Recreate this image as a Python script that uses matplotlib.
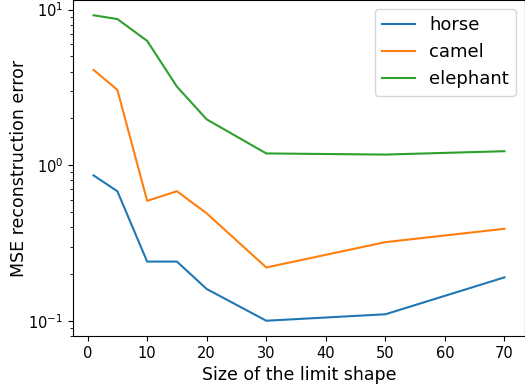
import matplotlib
matplotlib.use("Agg")
import matplotlib.pyplot as plt

sizes = [1, 5, 10, 15, 20, 30, 50, 70]
horse = [0.86, 0.68, 0.24, 0.24, 0.16, 0.10, 0.11, 0.19]
camel = [4.1, 3.05, 0.59, 0.68, 0.49, 0.22, 0.32, 0.39]
elephant = [9.2, 8.7, 6.3, 3.2, 1.97, 1.19, 1.17, 1.23]

fig = plt.figure(figsize=(5.25, 3.88), dpi=100)
ax = fig.add_axes([73 / 525, 52 / 388, 452 / 525, 336 / 388])
ax.plot(sizes, horse, label='horse')
ax.plot(sizes, camel, label='camel')
ax.plot(sizes, elephant, label='elephant')
ax.set_yscale('log')
ax.set_xlabel('Size of the limit shape', fontsize=12.5)
ax.set_ylabel('MSE reconstruction error', fontsize=12.5, labelpad=0)
ax.tick_params(labelsize=10.5)
ax.legend(loc='upper right', fontsize=13, handlelength=1.8)
fig.savefig('out.png', dpi=100)
